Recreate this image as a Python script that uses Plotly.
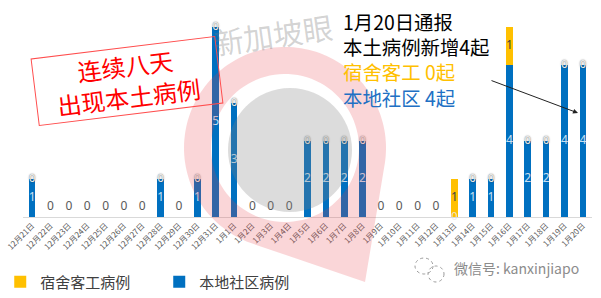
import numpy as np
import plotly.graph_objects as go

# Daily local cases, 21 Dec – 20 Jan
dates = ["12月21日", "12月22日", "12月23日", "12月24日", "12月25日", "12月26日",
         "12月27日", "12月28日", "12月29日", "12月30日", "12月31日", "1月1日",
         "1月2日", "1月3日", "1月4日", "1月5日", "1月6日", "1月7日", "1月8日",
         "1月9日", "1月10日", "1月11日", "1月12日", "1月13日", "1月14日",
         "1月15日", "1月16日", "1月17日", "1月18日", "1月19日", "1月20日"]
community = [1, 0, 0, 0, 0, 0, 0, 1, 0, 1, 5, 3, 0, 0, 0, 2, 2, 2, 2,
             0, 0, 0, 0, 0, 1, 1, 4, 2, 2, 4, 4]
dormitory = [0, 0, 0, 0, 0, 0, 0, 0, 0, 0, 0, 0, 0, 0, 0, 0, 0, 0, 0,
             0, 0, 0, 0, 1, 0, 0, 1, 0, 0, 0, 0]

BLUE = "#0070C0"
YELLOW = "#FFC000"

W, H = 601, 298
ML, MR, MT, MB = 23, 9, 10, 81
PW, PH = W - ML - MR, H - MT - MB
UNIT = 38.0  # pixels per case
BASE = H - MB


def px(x):
    return (x - ML) / PW


def py(y):
    return (BASE - y) / PH


fig = go.Figure()

fig.add_trace(go.Bar(x=dates, y=community, name="本地社区病例",
                     marker=dict(color=BLUE, line=dict(width=0)),
                     width=0.36, legendrank=2, hoverinfo="x+y"))
fig.add_trace(go.Bar(x=dates, y=dormitory, name="宿舍客工病例",
                     marker=dict(color=YELLOW, line=dict(width=0)),
                     width=0.36, legendrank=1, hoverinfo="x+y"))

# value labels
blue_x, blue_y, blue_t = [], [], []
dorm_x, dorm_y, dorm_t = [], [], []
top_x, top_y = [], []
zero_x, zero_y = [], []
faint_x, faint_y = [], []
for d, c, k in zip(dates, community, dormitory):
    if c > 0:
        blue_x.append(d); blue_y.append(c / 2); blue_t.append(str(c))
    if k > 0:
        dorm_x.append(d); dorm_y.append(c + k / 2); dorm_t.append(str(k))
    if c > 0 and k == 0:
        top_x.append(d); top_y.append(c)
    if c == 0 and k == 0:
        zero_x.append(d); zero_y.append(0.26)
    if c == 0 and k > 0:
        faint_x.append(d); faint_y.append(0)

lbl_font = "Noto Sans, DejaVu Sans, sans-serif"
common = dict(mode="text", showlegend=False, hoverinfo="skip", cliponaxis=False)
fig.add_trace(go.Scatter(x=blue_x, y=blue_y, text=blue_t,
                         textfont=dict(size=12, color="rgba(255,255,255,0.8)", family=lbl_font),
                         **common))
fig.add_trace(go.Scatter(x=dorm_x, y=dorm_y, text=dorm_t,
                         textfont=dict(size=12, color="#404040", family=lbl_font),
                         **common))
fig.add_trace(go.Scatter(x=top_x, y=top_y, text=["0"] * len(top_x),
                         textfont=dict(size=11, color="#f4f4f4", family=lbl_font,
                                       shadow="0px 0px 1.5px #303030"),
                         **common))
fig.add_trace(go.Scatter(x=zero_x, y=zero_y, text=["0"] * len(zero_x),
                         textfont=dict(size=12, color="#595959", family=lbl_font),
                         **common))
fig.add_trace(go.Scatter(x=faint_x, y=faint_y, text=["0"] * len(faint_x),
                         textfont=dict(size=11, color="rgba(235,235,235,0.9)", family=lbl_font),
                         **common))

# location-pin watermark
cx, cy, R, r_in = 285, 148, 101, 74
tip = (365, 282)
ang_out = np.radians(np.linspace(108, 369, 120))
outer = [(cx + R * np.cos(a), cy + R * np.sin(a)) for a in ang_out] + [tip]
ang_in = np.radians(np.linspace(0, 360, 100))
inner = [(cx + r_in * np.cos(a), cy + r_in * np.sin(a)) for a in ang_in]


def to_path(pts):
    s = "M" + " L".join(f"{px(x):.4f},{py(y):.4f}" for x, y in pts)
    return s + " Z"


shapes = [
    dict(type="path", xref="paper", yref="paper", path=to_path(outer) + " " + to_path(inner),
         fillrule="evenodd", fillcolor="rgba(230,60,70,0.21)", line=dict(width=0), layer="above"),
    dict(type="circle", xref="paper", yref="paper",
         x0=px(290 - 62), x1=px(290 + 62), y0=py(150 + 62), y1=py(150 - 62),
         fillcolor="rgba(128,128,128,0.28)", line=dict(width=0), layer="above"),
    # wechat icon
    dict(type="circle", xref="paper", yref="paper",
         x0=px(415), x1=px(433), y0=py(274), y1=py(258),
         line=dict(color="#9a9a9a", width=1, dash="dot"), layer="above"),
    dict(type="circle", xref="paper", yref="paper",
         x0=px(428), x1=px(444), y0=py(282), y1=py(266),
         line=dict(color="#9a9a9a", width=1, dash="dot"), layer="above"),
]

cjk = "Noto Sans CJK SC"


def label(x, y, text, size, color, **kw):
    d = dict(x=px(x), y=py(y), xref="paper", yref="paper", text=text, showarrow=False,
             xanchor="left", yanchor="middle", font=dict(family=cjk, size=size, color=color))
    d.update(kw)
    return d


bulletin = ("1月20日通报<br>本土病例新增4起<br>"
            f"<span style='color:{YELLOW}'>宿舍客工 0起</span><br>"
            "<span style='color:#2170C4'>本地社区 4起</span>")

annotations = [
    label(273, 34, "新加坡眼", 30, "rgba(120,120,120,0.33)", xanchor="center", textangle=-8),
    label(127, 81, "连续八天<br>出现本土病例", 24, "#FF0000", xanchor="center",
          textangle=-7, width=182, height=64, borderpad=1,
          bordercolor="#FF4D4D", borderwidth=1),
    label(341, 60, bulletin, 19.4, "#000000", align="left"),
    dict(x=px(578), y=py(113), xref="paper", yref="paper", text="", showarrow=True,
         ax=490 - 578, ay=80 - 113, axref="pixel", ayref="pixel",
         arrowhead=2, arrowsize=1, arrowwidth=1, arrowcolor="#222222", standoff=0),
    label(452, 268, "微信号: kanxinjiapo", 14, "#8c8c8c"),
]

fig.update_layout(
    width=W, height=H,
    margin=dict(l=ML, r=MR, t=MT, b=MB, autoexpand=False),
    barmode="stack",
    plot_bgcolor="white", paper_bgcolor="white",
    font=dict(family=cjk),
    shapes=shapes, annotations=annotations,
    legend=dict(orientation="h", traceorder="normal", x=-0.04, y=py(282),
                xanchor="left", yanchor="middle",
                entrywidth=114, entrywidthmode="pixels",
                font=dict(size=15, color="#404040", family=cjk)),
    xaxis=dict(type="category", range=[-0.5, len(dates) - 0.5], tickangle=-45,
               tickfont=dict(size=8, color="#595959", family=cjk),
               showline=True, linecolor="#d9d9d9", linewidth=1, ticks="",
               showgrid=False, zeroline=False),
    yaxis=dict(range=[0, PH / UNIT], visible=False, showgrid=False, zeroline=False),
)

fig.write_html("out.html")
